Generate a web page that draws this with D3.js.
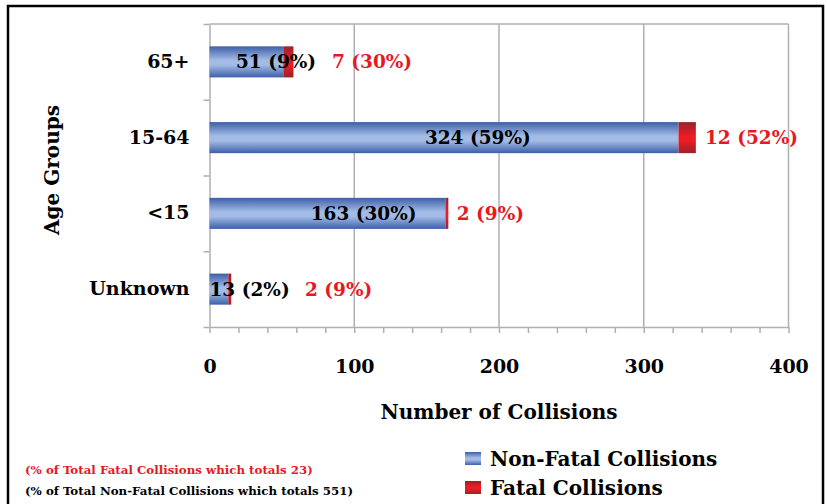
<!DOCTYPE html>
<html>
<head>
<meta charset="utf-8">
<script src="https://cdn.jsdelivr.net/npm/d3@7"></script>
<style>
  body { margin: 0; background: #fff; }
  svg { display: block; font-family: "DejaVu Serif", "Liberation Serif", serif; font-weight: bold; }
  svg text { font-family: "DejaVu Serif", "Liberation Serif", serif; }
  .axis path, .axis line { stroke: #b0b0b0; stroke-width: 1.5; }
  .axis text { fill: #000; }
</style>
</head>
<body>
<script>
// data
var ageGroups = ['65+', '15-64', '<15', 'Unknown'];
var nonFatal = [51, 324, 163, 13];
var fatal = [7, 12, 2, 2];
var nonFatalPct = ['9%', '59%', '30%', '2%'];
var fatalPct = ['30%', '52%', '9%', '9%'];
var xTicks = [0, 100, 200, 300, 400];

// where each label starts, in collisions (labels were placed by hand in the original)
var nfLabelAt = [18.3, 148.8, 69.9, 0];
var fLabelAt = [84.6, 342.3, 170.8, 66];

var W = 827, H = 504;
var margin = {top: 24, left: 209.5};
var w = 579, h = 303;
var fs = '19px';

var svg = d3.select('body').append('svg')
            .attr('width', W)
            .attr('height', H);

var defs = svg.append('defs');
function gradient(id, edge, mid) {
  var g = defs.append('linearGradient')
              .attr('id', id)
              .attr('x1', 0).attr('y1', 0).attr('x2', 0).attr('y2', 1);
  g.append('stop').attr('offset', '0%').attr('stop-color', edge);
  g.append('stop').attr('offset', '45%').attr('stop-color', mid);
  g.append('stop').attr('offset', '60%').attr('stop-color', mid);
  g.append('stop').attr('offset', '100%').attr('stop-color', edge);
}
gradient('blueGrad', '#3d5fa8', '#a3bce6');
gradient('redGrad', '#9c2128', '#ec1c24');

// outer frame
svg.append('rect')
   .attr('x', 8).attr('y', 6)
   .attr('width', 815).attr('height', 510)
   .attr('fill', 'none')
   .attr('stroke', '#000')
   .attr('stroke-width', 2.5);

var xScale = d3.scaleLinear().domain([0, 400]).range([0, w]);
var yScale = d3.scaleBand().domain(ageGroups).range([0, h])
               .paddingInner(0.59).paddingOuter(0.295);

var focus = svg.append('g')
               .attr('transform', 'translate(' + margin.left + ',' + margin.top + ')');

// grid lines + top border
focus.selectAll('.grid')
     .data(xTicks.slice(1))
     .enter().append('line')
     .attr('class', 'grid')
     .attr('x1', function(d) { return xScale(d); })
     .attr('x2', function(d) { return xScale(d); })
     .attr('y1', 0).attr('y2', h)
     .attr('stroke', '#b0b0b0')
     .attr('stroke-width', 1.5);
focus.append('line')
     .attr('x1', 0).attr('x2', w)
     .attr('y1', 0).attr('y2', 0)
     .attr('stroke', '#b0b0b0')
     .attr('stroke-width', 1.5);

// x axis: minor ticks every 20, labels on the hundreds
focus.append('g')
     .attr('class', 'axis axis--x')
     .attr('transform', 'translate(0,' + h + ')')
     .call(d3.axisBottom(xScale)
             .tickValues(d3.range(0, 401, 20))
             .tickSize(6)
             .tickSizeOuter(0)
             .tickFormat(''));
var gXLabels = focus.append('g')
              .attr('class', 'axis')
              .attr('transform', 'translate(0,' + h + ')')
              .call(d3.axisBottom(xScale)
                      .tickValues(xTicks)
                      .tickSize(0)
                      .tickPadding(39));
gXLabels.select('.domain').remove();
gXLabels.attr('font-family', null).attr('font-size', null);
gXLabels.selectAll('text').style('font-size', fs).attr('dy', '0.35em');

// y axis: ticks between the bands, labels at band centres
focus.append('g')
     .attr('class', 'axis axis--y')
     .call(d3.axisLeft(d3.scaleLinear().domain([0, 4]).range([0, h]))
             .ticks(4)
             .tickSize(6)
             .tickSizeOuter(0)
             .tickFormat(''));
var gYLabels = focus.append('g')
     .attr('class', 'axis')
     .call(d3.axisLeft(yScale).tickSize(0).tickPadding(20));
gYLabels.select('.domain').remove();
gYLabels.attr('font-family', null).attr('font-size', null);
gYLabels.selectAll('text').style('font-size', fs);

// bars
var rows = ageGroups.map(function(g, i) {
  return {group: g, nf: nonFatal[i], f: fatal[i], nfPct: nonFatalPct[i], fPct: fatalPct[i],
          nfAt: nfLabelAt[i], fAt: fLabelAt[i]};
});

focus.selectAll('.bar-nf')
     .data(rows)
     .enter().append('rect')
     .attr('class', 'bar-nf')
     .attr('x', xScale(0))
     .attr('y', function(d) { return yScale(d.group); })
     .attr('width', function(d) { return xScale(d.nf) - xScale(0); })
     .attr('height', yScale.bandwidth())
     .attr('fill', 'url(#blueGrad)');

focus.selectAll('.bar-f')
     .data(rows)
     .enter().append('rect')
     .attr('class', 'bar-f')
     .attr('x', function(d) { return xScale(d.nf); })
     .attr('y', function(d) { return yScale(d.group); })
     .attr('width', function(d) { return xScale(d.nf + d.f) - xScale(d.nf); })
     .attr('height', yScale.bandwidth())
     .attr('fill', 'url(#redGrad)');

// value labels
focus.selectAll('.label-nf')
     .data(rows)
     .enter().append('text')
     .attr('class', 'label-nf')
     .attr('x', function(d) { return xScale(d.nfAt); })
     .attr('y', function(d) { return yScale(d.group) + yScale.bandwidth() / 2; })
     .attr('dy', '0.35em')
     .style('font-size', '18.5px')
     .attr('fill', '#000')
     .text(function(d) { return d.nf + ' (' + d.nfPct + ')'; });

focus.selectAll('.label-f')
     .data(rows)
     .enter().append('text')
     .attr('class', 'label-f')
     .attr('x', function(d) { return xScale(d.fAt); })
     .attr('y', function(d) { return yScale(d.group) + yScale.bandwidth() / 2; })
     .attr('dy', '0.35em')
     .style('font-size', '18.5px')
     .attr('fill', '#e8181f')
     .text(function(d) { return d.f + ' (' + d.fPct + ')'; });

// axis titles
focus.append('text')
     .attr('text-anchor', 'middle')
     .attr('transform', 'translate(' + (w / 2) + ',' + (h + 92) + ')')
     .style('font-size', '20px')
     .text('Number of Collisions');
svg.append('text')
   .attr('text-anchor', 'middle')
   .attr('transform', 'translate(59,170)rotate(-90)')
   .style('font-size', '20px')
   .text('Age Groups');

// notes
svg.append('text')
   .attr('x', 25).attr('y', 474)
   .style('font-size', '11.8px')
   .attr('fill', '#e8181f')
   .text('(% of Total Fatal Collisions which totals 23)');
svg.append('text')
   .attr('x', 25).attr('y', 495)
   .style('font-size', '11.8px')
   .attr('fill', '#000')
   .text('(% of Total Non-Fatal Collisions which totals 551)');

// legend
var legend = svg.append('g').attr('transform', 'translate(465,452)');
var legendItems = [
  {name: 'Non-Fatal Collisions', fill: 'url(#blueGrad)'},
  {name: 'Fatal Collisions', fill: 'url(#redGrad)'}
];
var li = legend.selectAll('g')
               .data(legendItems)
               .enter().append('g')
               .attr('transform', function(d, i) { return 'translate(0,' + (i * 29) + ')'; });
li.append('rect')
  .attr('width', 16).attr('height', 13)
  .attr('fill', function(d) { return d.fill; });
li.append('text')
  .attr('x', 25).attr('y', 6.5)
  .attr('dy', '0.35em')
  .style('font-size', '20px')
  .text(function(d) { return d.name; });
</script>
</body>
</html>
